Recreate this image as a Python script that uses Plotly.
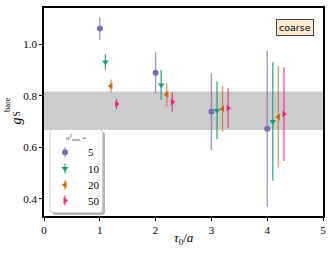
import plotly.graph_objects as go

tau = [1, 2, 3, 4]
offsets = [0.0, 0.1, 0.2, 0.3]
labels = ["5", "10", "20", "50"]
values = {
    "5":  [1.061, 0.889, 0.738, 0.672],
    "10": [0.931, 0.842, 0.743, 0.700],
    "20": [0.838, 0.805, 0.749, 0.718],
    "50": [0.768, 0.776, 0.752, 0.729],
}
errors = {
    "5":  [0.043, 0.080, 0.149, 0.303],
    "10": [0.030, 0.058, 0.112, 0.230],
    "20": [0.025, 0.045, 0.089, 0.197],
    "50": [0.021, 0.038, 0.077, 0.182],
}
band_lo, band_hi = 0.667, 0.817

colors = ["#7570b3", "#1b9e77", "#d95f02", "#e7298a"]
err_colors = ["rgba(117,112,179,0.75)", "rgba(27,158,119,0.85)",
              "rgba(217,95,2,0.65)", "rgba(231,41,138,0.8)"]
symbols = ["circle", "triangle-down", "triangle-left", "triangle-right"]

W, H = 332, 255
ML, MR, MT, MB = 44, 9, 8, 39
PW, PH = W - ML - MR, H - MT - MB


def px(x):
    return (x - ML) / PW


def py(y):
    return (H - MB - y) / PH


serif = "Liberation Serif, DejaVu Serif, serif"
fig = go.Figure()
for i, lab in enumerate(labels):
    fig.add_trace(go.Scatter(
        x=[t + offsets[i] for t in tau], y=values[lab],
        mode="markers", name=lab, showlegend=False,
        marker=dict(symbol=symbols[i], color=colors[i], size=6, line=dict(width=0)),
        error_y=dict(type="data", array=errors[lab], color=err_colors[i],
                     thickness=1.3, width=0),
    ))

fig.add_shape(type="rect", xref="paper", yref="y", x0=0, x1=1,
              y0=band_lo, y1=band_hi, fillcolor="#cccccc", line=dict(width=0),
              layer="below")

# ---- hand-drawn legend (pixel overlay axes) ----
def rounded(x0, y0, x1, y1, r):
    return (f"M {x0+r},{y0} L {x1-r},{y0} Q {x1},{y0} {x1},{y0+r} "
            f"L {x1},{y1-r} Q {x1},{y1} {x1-r},{y1} L {x0+r},{y1} "
            f"Q {x0},{y1} {x0},{y1-r} L {x0},{y0+r} Q {x0},{y0} {x0+r},{y0} Z")

lx0, ly0, lx1, ly1 = 50, 129.5, 102.5, 212.5
fig.add_shape(type="path", xref="x2", yref="y2",
              path=rounded(lx0 + 2.5, ly0 + 2.5, lx1 + 2.5, ly1 + 2.5, 3),
              fillcolor="#b5b5b5", line=dict(width=0), layer="below")
fig.add_shape(type="path", xref="x2", yref="y2",
              path=rounded(lx0, ly0, lx1, ly1, 3),
              fillcolor="white", line=dict(color="#d0d0d0", width=1), layer="below")

leg_y = [152.3, 168.5, 184.7, 200.5]
for i, lab in enumerate(labels):
    fig.add_trace(go.Scatter(
        x=[65], y=[leg_y[i]], xaxis="x2", yaxis="y2", mode="markers",
        showlegend=False, hoverinfo="skip",
        marker=dict(symbol=symbols[i], color=colors[i], size=6, line=dict(width=0)),
        error_y=dict(type="constant", value=5, color=err_colors[i],
                     thickness=1.3, width=0),
    ))
    fig.add_annotation(x=85.5, y=leg_y[i], xref="x2", yref="y2", text=lab,
                       showarrow=False, xanchor="left", yanchor="middle",
                       font=dict(family=serif, size=11, color="black"))
fig.add_annotation(x=75.5, y=137.5, xref="x2", yref="y2",
                   text="<i>n</i><sup>2</sup><sub>max</sub> =", showarrow=False,
                   xanchor="center", yanchor="middle",
                   font=dict(family=serif, size=7, color="#333333"))

fig.add_annotation(x=0.901, y=0.905, xref="paper", yref="paper",
                   xanchor="center", yanchor="middle", text="coarse", showarrow=False,
                   font=dict(family="DejaVu Sans", size=9.5, color="black"),
                   bgcolor="#fce9d2", bordercolor="#444444", borderwidth=1,
                   borderpad=2)

# axis titles
fig.add_annotation(x=0.5, y=-0.11, xref="paper", yref="paper",
                   text="<i>τ</i><sub>0</sub>/<i>a</i>", showarrow=False,
                   font=dict(family=serif, size=13), xanchor="center", yanchor="middle")
# y title: g with stacked sub/superscript
fig.add_annotation(x=px(16), y=py(121.5), xref="paper", yref="paper", textangle=-90,
                   text="<i>g</i>", showarrow=False,
                   font=dict(family=serif, size=14), xanchor="center", yanchor="middle")
fig.add_annotation(x=px(16.5), y=py(114), xref="paper", yref="paper", textangle=-90,
                   text="S", showarrow=False,
                   font=dict(family=serif, size=9.5), xanchor="center", yanchor="middle")
fig.add_annotation(x=px(7), y=py(105), xref="paper", yref="paper", textangle=-90,
                   text="bare", showarrow=False,
                   font=dict(family=serif, size=8.5), xanchor="center", yanchor="middle")

fig.update_layout(
    width=W, height=H,
    margin=dict(l=ML, r=MR, t=MT, b=MB, autoexpand=False),
    plot_bgcolor="white", paper_bgcolor="white",
    font=dict(family=serif, size=11, color="black"),
    showlegend=False,
    xaxis=dict(range=[0, 5], tickvals=[0, 1, 2, 3, 4, 5], showgrid=False,
               zeroline=False, showline=True, linecolor="black", linewidth=1.5,
               mirror=True, ticks="outside", ticklen=3, tickcolor="black",
               automargin=False),
    yaxis=dict(range=[0.333, 1.141], tickvals=[0.4, 0.6, 0.8, 1.0],
               tickformat=".1f", showgrid=False, zeroline=False, showline=True,
               linecolor="black", linewidth=1.5, mirror=True, ticks="outside",
               ticklen=3, tickcolor="black", automargin=False),
    xaxis2=dict(overlaying="x", range=[ML, W - MR], visible=False, fixedrange=True),
    yaxis2=dict(overlaying="y", range=[H - MB, MT], visible=False, fixedrange=True),
)

fig.write_html("out.html", config={"displayModeBar": False},
               post_script="document.body.style.margin='0';document.body.style.overflow='hidden';")
